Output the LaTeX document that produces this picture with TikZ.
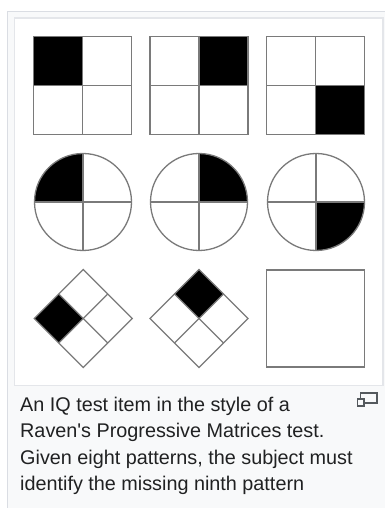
\documentclass[tikz,border=0pt]{standalone}
\usepackage{fontspec}
\setmainfont{Liberation Sans}
\newfontfamily\capfont{Liberation Sans}
\usetikzlibrary{calc}
\definecolor{framebg}{HTML}{F8F9FA}
\definecolor{frameline}{HTML}{DADDE3}
\definecolor{innerline}{HTML}{E4E6EA}
\definecolor{shapeline}{HTML}{7A7A7A}
\definecolor{captext}{HTML}{202122}
\definecolor{iconcol}{HTML}{54595D}
\begin{document}
\begin{tikzpicture}[x=1pt,y=1pt,
  shp/.style={draw=shapeline,line width=1.3pt},
  blk/.style={fill=black},
  captxt/.style={anchor=base west,inner sep=0pt,text=captext,font=\capfont\fontsize{19.8}{26}\selectfont}]
\useasboundingbox (0,0) rectangle (385,508);
\fill[white] (0,0) rectangle (385,508);
% frame
\filldraw[fill=framebg,draw=frameline,line width=1.5pt] (7.5,-10) rectangle (400,496.5);
\filldraw[fill=white,draw=innerline,line width=1.2pt] (14.5,122.5) rectangle (383,490);
% row 1: squares
\coordinate (s1) at (82.5,422.5);
\coordinate (s2) at (199,422.5);
\coordinate (s3) at (315.5,422.5);
\fill[blk] (s1) rectangle ++(-49,49);
\fill[blk] (s2) rectangle ++(49,49);
\fill[blk] (s3) rectangle ++(49,-49);
\foreach \c in {s1,s2,s3}{
  \draw[shp] ($(\c)+(-49,-49)$) rectangle ($(\c)+(49,49)$);
  \draw[shp] ($(\c)+(0,-49)$) -- ($(\c)+(0,49)$);
  \draw[shp] ($(\c)+(-49,0)$) -- ($(\c)+(49,0)$);
}
% row 2: circles
\coordinate (c1) at (83,306);
\coordinate (c2) at (199,306);
\coordinate (c3) at (316,306);
\fill[blk] (c1) -- ++(180:48.5) arc[start angle=180,end angle=90,radius=48.5] -- cycle;
\fill[blk] (c2) -- ++(90:48.5) arc[start angle=90,end angle=0,radius=48.5] -- cycle;
\fill[blk] (c3) -- ++(0:48.5) arc[start angle=360,end angle=270,radius=48.5] -- cycle;
\foreach \c in {c1,c2,c3}{
  \draw[shp] (\c) circle[radius=48.5];
  \draw[shp] ($(\c)+(0,-48.5)$) -- ($(\c)+(0,48.5)$);
  \draw[shp] ($(\c)+(-48.5,0)$) -- ($(\c)+(48.5,0)$);
}
% row 3: diamonds and empty square
\coordinate (d1) at (83.3,189.5);
\coordinate (d2) at (199,189.5);
\fill[blk] ($(d1)+(-49,0)$) -- ($(d1)+(-24.5,24.5)$) -- (d1) -- ($(d1)+(-24.5,-24.5)$) -- cycle;
\fill[blk] ($(d2)+(0,49)$) -- ($(d2)+(24.5,24.5)$) -- (d2) -- ($(d2)+(-24.5,24.5)$) -- cycle;
\foreach \c in {d1,d2}{
  \draw[shp,line join=miter] ($(\c)+(-49,0)$) -- ($(\c)+(0,49)$) -- ($(\c)+(49,0)$) -- ($(\c)+(0,-49)$) -- cycle;
  \draw[shp] ($(\c)+(-24.5,24.5)$) -- ($(\c)+(24.5,-24.5)$);
  \draw[shp] ($(\c)+(24.5,24.5)$) -- ($(\c)+(-24.5,-24.5)$);
}
\draw[shp] (266.5,141) rectangle (364.5,238);
% caption
\node[captxt] (cap1) at (20,96.3) {An IQ test item in the style of a};
\node[captxt] (cap2) at (20,70) {Raven\symbol{39}s Progressive Matrices test.};
\node[captxt] (cap3) at (20,43.5) {Given eight patterns, the subject must};
\node[captxt] (cap4) at (20,17) {identify the missing ninth pattern};
% enlarge icon
\draw[iconcol,line width=1.2pt] (360.5,105) rectangle (377,115);
\filldraw[fill=framebg,draw=iconcol,line width=1.2pt] (357.5,102) rectangle (364,109);
\end{tikzpicture}
\end{document}
